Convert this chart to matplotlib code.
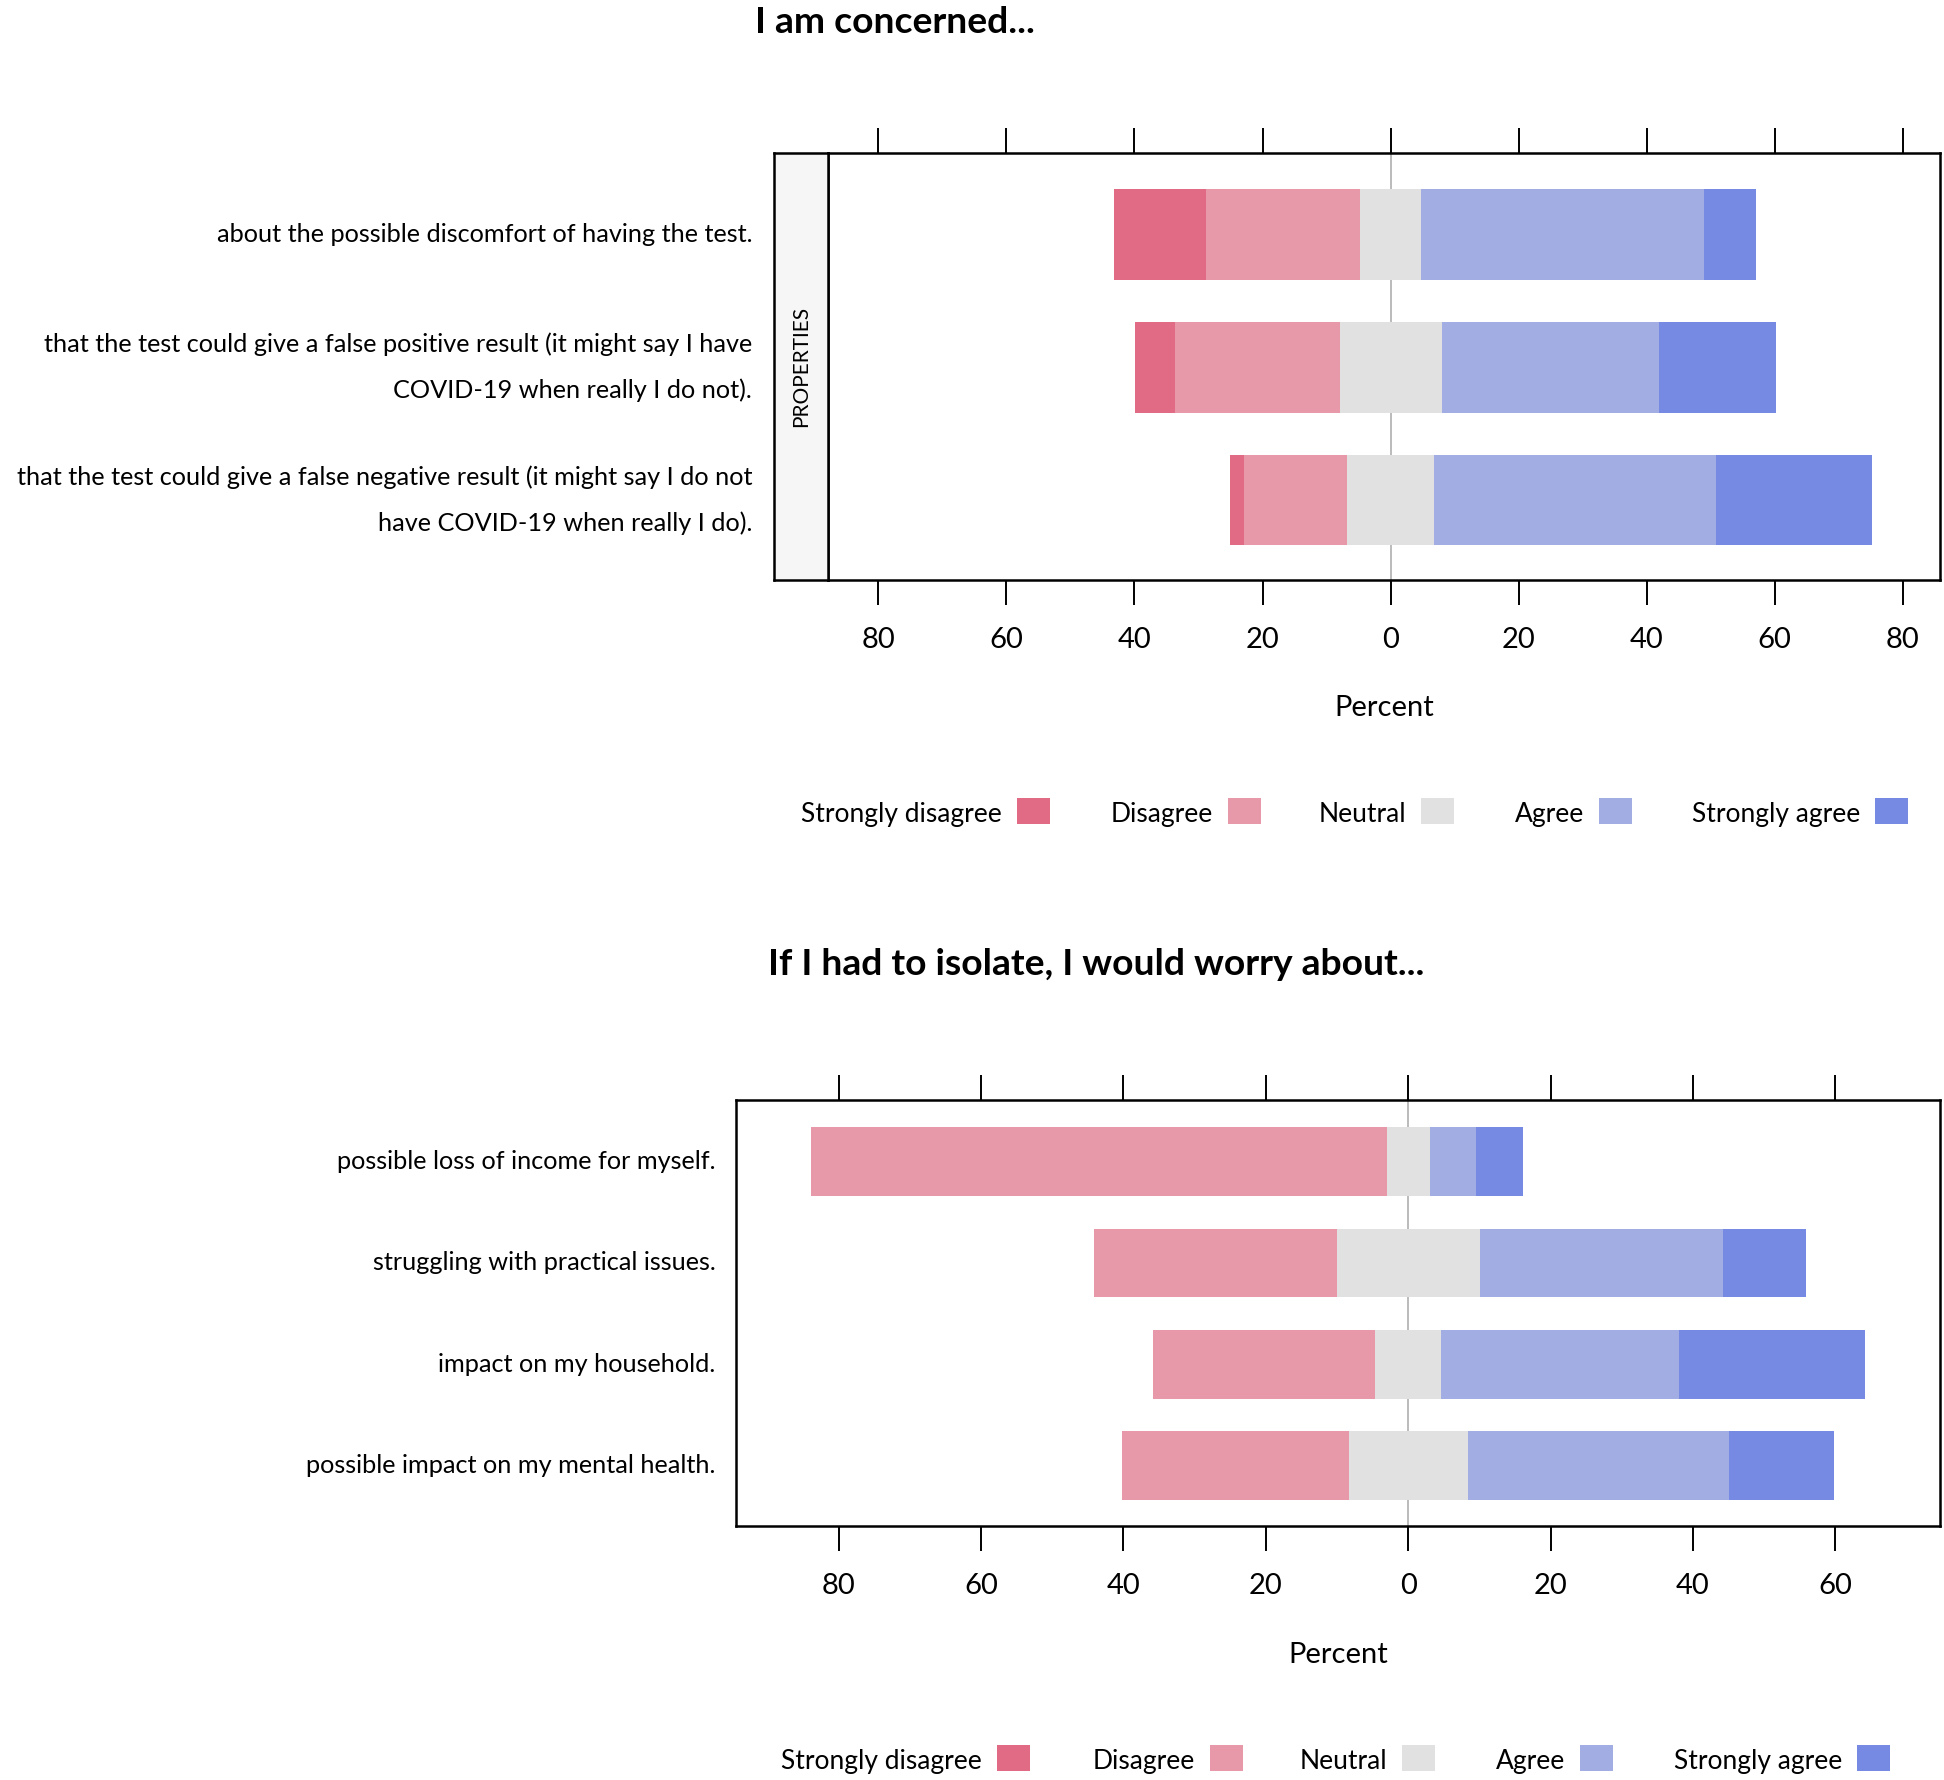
import numpy as np
import matplotlib
matplotlib.use('Agg')
import matplotlib.pyplot as plt
from matplotlib.patches import Rectangle

plt.rcParams['font.family'] = ['Lato', 'DejaVu Sans']

W, H = 1944, 1780

levels = ['Strongly disagree', 'Disagree', 'Neutral', 'Agree', 'Strongly agree']
colors = ['#E16A84', '#E899A9', '#E1E1E1', '#A2ADE3', '#768AE4']

# top panel: "I am concerned..."
top_items = ['about the possible discomfort of having the test.',
             'that the test could give a false positive result (it might say I have\nCOVID-19 when really I do not).',
             'that the test could give a false negative result (it might say I do not\nhave COVID-19 when really I do).']
top_sd = [14.4, 6.3, 2.2]
top_d = [24.0, 25.7, 16.1]
top_n = [9.6, 15.9, 13.7]
top_a = [44.2, 33.9, 44.0]
top_sa = [8.1, 18.3, 24.3]

# bottom panel: "If I had to isolate..."
bot_items = ['possible loss of income for myself.',
             'struggling with practical issues.',
             'impact on my household.',
             'possible impact on my mental health.']
bot_sd = [0.0, 0.0, 0.0, 0.0]
bot_d = [80.9, 34.1, 31.3, 31.9]
bot_n = [6.1, 20.1, 9.2, 16.7]
bot_a = [6.5, 34.2, 33.4, 36.7]
bot_sa = [6.6, 11.6, 26.2, 14.8]

top_ticks = [-80, -60, -40, -20, 0, 20, 40, 60, 80]
bot_ticks = [-80, -60, -40, -20, 0, 20, 40, 60]


def px_axes(fig, x0, y0, x1, y1):
    return fig.add_axes([x0 / W, 1 - y1 / H, (x1 - x0) / W, (y1 - y0) / H])


def draw_panel(ax, items, sd, d, n, a, sa, ticks, xlim, pad):
    sd, d, n, a, sa = [np.array(v) for v in (sd, d, n, a, sa)]
    y = np.arange(len(items))
    half = n / 2
    ax.axvline(0, color='#A8A8A8', lw=1.1, zorder=1)
    kw = dict(height=0.68, zorder=2, edgecolor='none')
    ax.barh(y, n, left=-half, color=colors[2], **kw)
    ax.barh(y, d, left=-half - d, color=colors[1], **kw)
    ax.barh(y, sd, left=-half - d - sd, color=colors[0], **kw)
    ax.barh(y, a, left=half, color=colors[3], **kw)
    ax.barh(y, sa, left=half + a, color=colors[4], **kw)

    ax.set_xlim(*xlim)
    ax.set_ylim(len(items) - 0.4, -0.61)
    ax.set_xticks(ticks, [str(abs(t)) for t in ticks])
    ax.tick_params(axis='x', top=True, bottom=True, direction='out',
                   length=18, width=1.4, pad=16, labelsize=21)
    ax.set_yticks(y, items)
    ax.tick_params(axis='y', length=0, pad=pad, labelsize=18.2)
    for lab in ax.get_yticklabels():
        lab.set_linespacing(2.15)
        lab.set_verticalalignment('center')
    for s in ax.spines.values():
        s.set_linewidth(1.8)


def draw_legend(fig, yc, box_lefts):
    for lev, col, bx in zip(levels, colors, box_lefts):
        fig.patches.append(Rectangle((bx / W, 1 - (yc + 13) / H), 33 / W, 26 / H,
                                     transform=fig.transFigure, facecolor=col,
                                     edgecolor='none'))
        fig.text((bx - 15) / W, 1 - (yc + 11) / H, lev, ha='right', va='baseline',
                 fontsize=19)


fig = plt.figure(figsize=(W / 100, H / 100), dpi=100)

# top panel with strip
ax1 = px_axes(fig, 828.4, 153.3, 1940, 580)
draw_panel(ax1, top_items, top_sd, top_d, top_n, top_a, top_sa, top_ticks,
           (-87.8, 85.8), 55)
strip = px_axes(fig, 773.7, 153.3, 828.4, 580)
strip.set_facecolor('#F6F6F6')
strip.set_xticks([])
strip.set_yticks([])
for s in strip.spines.values():
    s.set_linewidth(1.8)
strip.text(0.5, 0.5, 'PROPERTIES', rotation=90, ha='center', va='center',
           fontsize=15, transform=strip.transAxes)

fig.text(755 / W, 1 - 33 / H, 'I am concerned...', ha='left', va='baseline',
         fontsize=26.8, fontweight='bold')
fig.text(1384 / W, 1 - 708 / H, 'Percent', ha='center', va='center', fontsize=21)
draw_legend(fig, 811, [1017, 1228, 1421, 1599, 1875])

# bottom panel
ax2 = px_axes(fig, 736.2, 1100, 1940, 1526)
draw_panel(ax2, bot_items, bot_sd, bot_d, bot_n, bot_a, bot_sa, bot_ticks,
           (-94.4, 74.7), 15)

fig.text(768 / W, 1 - 975 / H, 'If I had to isolate, I would worry about...',
         ha='left', va='baseline', fontsize=26.8, fontweight='bold')
fig.text(1338 / W, 1 - 1655 / H, 'Percent', ha='center', va='center', fontsize=21)
draw_legend(fig, 1758, [997, 1210, 1402, 1580, 1857])

fig.savefig('out.png', dpi=100)
